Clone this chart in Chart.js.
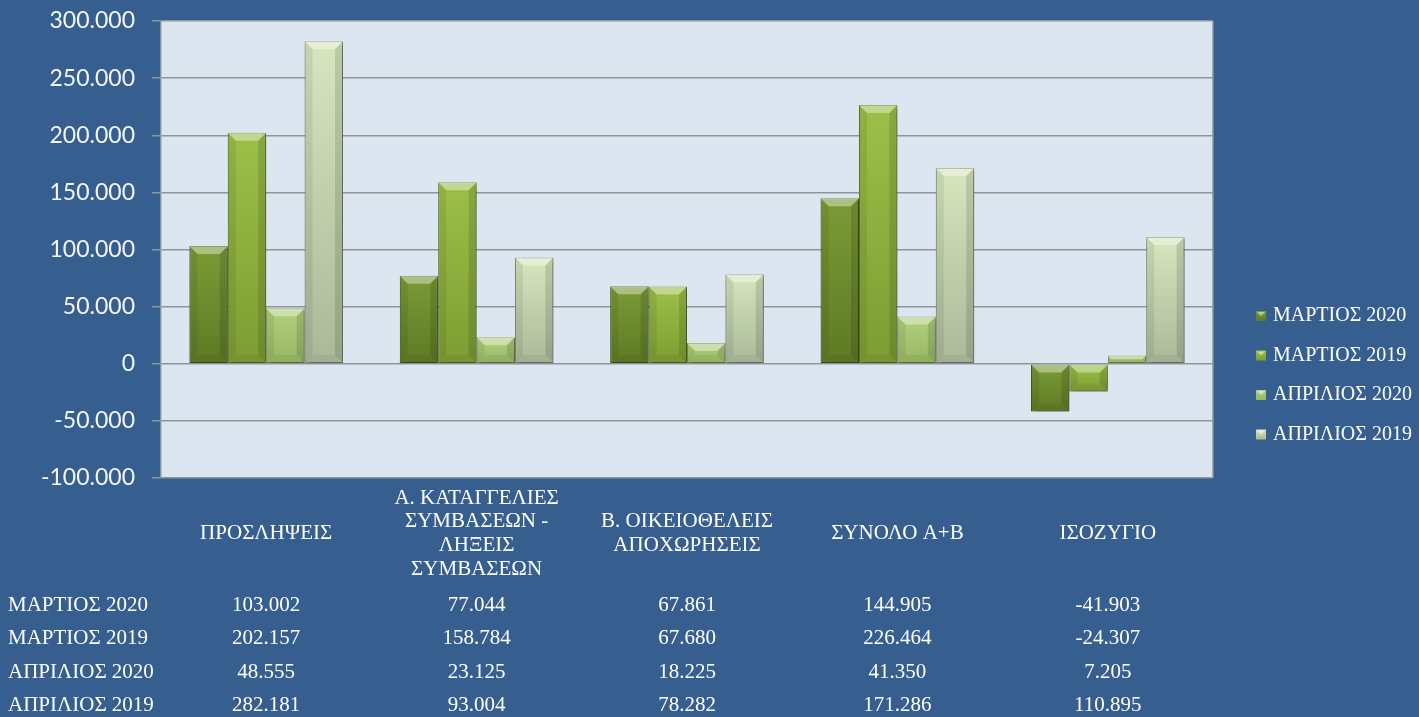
<!DOCTYPE html>
<html>
<head>
<meta charset="utf-8">
<script src="https://cdn.jsdelivr.net/npm/chart.js@4.4.1/dist/chart.umd.min.js"></script>
<style>
  html, body { margin: 0; padding: 0; background: #365f90; }
  #wrap { width: 1419px; height: 717px; }
</style>
</head>
<body>
<div id="wrap"><canvas id="flowChart" width="1419" height="717"></canvas></div>
<script>
// Ροές μισθωτής απασχόλησης - Μάρτιος / Απρίλιος 2019-2020

const categories = [
    ['ΠΡΟΣΛΗΨΕΙΣ'],
    ['Α. ΚΑΤΑΓΓΕΛΙΕΣ', 'ΣΥΜΒΑΣΕΩΝ -', 'ΛΗΞΕΙΣ', 'ΣΥΜΒΑΣΕΩΝ'],
    ['Β. ΟΙΚΕΙΟΘΕΛΕΙΣ', 'ΑΠΟΧΩΡΗΣΕΙΣ'],
    ['ΣΥΝΟΛΟ Α+Β'],
    ['ΙΣΟΖΥΓΙΟ']
];

const seriesNames = ['ΜΑΡΤΙΟΣ 2020', 'ΜΑΡΤΙΟΣ 2019', 'ΑΠΡΙΛΙΟΣ 2020', 'ΑΠΡΙΛΙΟΣ 2019'];

const march2020 = [103002, 77044, 67861, 144905, -41903];
const march2019 = [202157, 158784, 67680, 226464, -24307];
const april2020 = [48555, 23125, 18225, 41350, 7205];
const april2019 = [282181, 93004, 78282, 171286, 110895];

const yMin = -100000;
const yMax = 300000;
const yStep = 50000;

// top colour, bottom colour, edge colour
const palette = [
    ['#7b9b36', '#5d7a24', '#4b641b'],
    ['#9bc048', '#7c9d32', '#66842a'],
    ['#b2d17c', '#97b664', '#7e9a52'],
    ['#d6e6bd', '#aab898', '#8f9b80']
];

const SERIF = "'Liberation Serif', 'DejaVu Serif', serif";
const SANS = "Lato, 'Liberation Sans', sans-serif";

// 1.234.567 style (dot thousands)
function fmt(v) {
    const s = String(Math.abs(v)).replace(/\B(?=(\d{3})+(?!\d))/g, '.');
    return (v < 0 ? '-' : '') + s;
}

function barFill(c, i) {
    const [top, bottom] = palette[i];
    const chart = c.chart;
    if (!c.parsed || !chart.chartArea) return top;
    const ys = chart.scales.y;
    const a = ys.getPixelForValue(c.parsed.y);
    const b = ys.getPixelForValue(0);
    const g = chart.ctx.createLinearGradient(0, Math.min(a, b), 0, Math.max(a, b) + 1);
    g.addColorStop(0, top);
    g.addColorStop(1, bottom);
    return g;
}

// backgrounds + plot frame
const framePlugin = {
    id: 'frame',
    beforeDraw(chart) {
        const { ctx, chartArea: a } = chart;
        ctx.save();
        ctx.fillStyle = '#365f90';
        ctx.fillRect(0, 0, chart.width, chart.height);
        ctx.fillStyle = '#dce6f1';
        ctx.fillRect(a.left, a.top, a.right - a.left, a.bottom - a.top);
        ctx.restore();
    },
    beforeDatasetsDraw(chart) {
        const { ctx, chartArea: a } = chart;
        ctx.save();
        ctx.strokeStyle = '#8e949b';
        ctx.lineWidth = 1.5;
        ctx.beginPath();
        ctx.moveTo(a.right, a.top);
        ctx.lineTo(a.right, a.bottom);
        ctx.stroke();
        ctx.restore();
        // soft drop shadow under the bars
        ctx.save();
        ctx.shadowColor = 'rgba(0, 0, 0, 0.35)';
        ctx.shadowBlur = 6;
        ctx.shadowOffsetX = 2;
        ctx.shadowOffsetY = 3;
    },
    afterDatasetsDraw(chart) {
        const ctx = chart.ctx;
        ctx.restore();
        // bevel on every bar
        chart.getSortedVisibleDatasetMetas().forEach(meta => {
            meta.data.forEach(bar => {
                const { x, y, base, width } = bar.getProps(['x', 'y', 'base', 'width'], true);
                const l = x - width / 2, r = x + width / 2;
                const t = Math.min(y, base), btm = Math.max(y, base);
                const b = Math.min(8, (btm - t) / 2, width / 4);
                ctx.save();
                ctx.fillStyle = 'rgba(255, 255, 255, 0.38)';
                ctx.beginPath();
                ctx.moveTo(l, t); ctx.lineTo(r, t); ctx.lineTo(r - b, t + b); ctx.lineTo(l + b, t + b);
                ctx.closePath(); ctx.fill();
                ctx.fillStyle = 'rgba(0, 0, 0, 0.07)';
                ctx.beginPath();
                ctx.moveTo(l, t); ctx.lineTo(l + b, t + b); ctx.lineTo(l + b, btm - b); ctx.lineTo(l, btm);
                ctx.closePath(); ctx.fill();
                ctx.fillStyle = 'rgba(0, 0, 0, 0.12)';
                ctx.beginPath();
                ctx.moveTo(r, t); ctx.lineTo(r - b, t + b); ctx.lineTo(r - b, btm - b); ctx.lineTo(r, btm);
                ctx.closePath(); ctx.fill();
                ctx.fillStyle = 'rgba(0, 0, 0, 0.05)';
                ctx.beginPath();
                ctx.moveTo(l, btm); ctx.lineTo(r, btm); ctx.lineTo(r - b, btm - b); ctx.lineTo(l + b, btm - b);
                ctx.closePath(); ctx.fill();
                ctx.restore();
            });
        });
    },
    afterDraw(chart) {
        const ctx = chart.ctx;
        const xs = chart.scales.x;
        ctx.save();
        ctx.fillStyle = '#ffffff';
        ctx.font = '21px ' + SERIF;
        ctx.textBaseline = 'middle';

        // data table under the axis
        chart.data.datasets.forEach((ds, i) => {
            const rowY = 605 + i * 33.5;
            ctx.textAlign = 'left';
            ctx.fillText(ds.label, 8, rowY);
            ctx.textAlign = 'center';
            ds.data.forEach((v, j) => ctx.fillText(fmt(v), xs.getPixelForValue(j), rowY));
        });

        // legend on the right
        ctx.font = '20px ' + SERIF;
        chart.data.datasets.forEach((ds, i) => {
            const ly = 316 + i * 39.5;
            const g = ctx.createLinearGradient(0, ly - 5, 0, ly + 5);
            g.addColorStop(0, palette[i][0]);
            g.addColorStop(1, palette[i][1]);
            ctx.fillStyle = g;
            ctx.fillRect(1256, ly - 5, 10, 10);
            ctx.fillStyle = 'rgba(255,255,255,0.5)';
            ctx.beginPath();
            ctx.moveTo(1257, ly - 4); ctx.lineTo(1265, ly - 4); ctx.lineTo(1261, ly);
            ctx.closePath(); ctx.fill();
            ctx.fillStyle = '#ffffff';
            ctx.textAlign = 'left';
            ctx.fillText(ds.label, 1273, ly);
        });
        ctx.restore();
    }
};

const seriesValues = [march2020, march2019, april2020, april2019];

const datasets = seriesNames.map((name, i) => ({
    label: name,
    data: seriesValues[i],
    backgroundColor: c => barFill(c, i),
    borderColor: palette[i][2],
    borderWidth: 1,
    borderSkipped: false,
    categoryPercentage: 0.73,
    barPercentage: 1.0
}));

new Chart(document.getElementById('flowChart'), {
    type: 'bar',
    data: { labels: categories, datasets: datasets },
    options: {
        responsive: false,
        animation: false,
        layout: { padding: { left: 0, top: 21, right: 206, bottom: 137 } },
        plugins: {
            legend: { display: false },
            tooltip: { enabled: false }
        },
        scales: {
            x: {
                afterFit: s => {
                    s.height = 102;
                    s.paddingLeft = 0;
                    s.paddingRight = 0;
                },
                grid: { display: false },
                border: { display: false },
                ticks: {
                    color: '#ffffff',
                    font: { family: SERIF, size: 21, lineHeight: 1.14 },
                    padding: 12,
                    crossAlign: 'center',
                    maxRotation: 0,
                    autoSkip: false
                }
            },
            y: {
                min: yMin,
                max: yMax,
                afterFit: s => {
                    s.width = 161;
                    s.paddingTop = 0;
                    s.paddingBottom = 0;
                },
                ticks: {
                    stepSize: yStep,
                    color: '#f4f6f9',
                    font: { family: SANS, size: 23 },
                    padding: 17,
                    callback: v => fmt(v)
                },
                grid: {
                    color: '#8e949b',
                    lineWidth: 1.5,
                    tickLength: 9
                },
                border: { display: true, color: '#8e949b', width: 1.5 }
            }
        }
    },
    plugins: [framePlugin]
});
</script>
</body>
</html>
